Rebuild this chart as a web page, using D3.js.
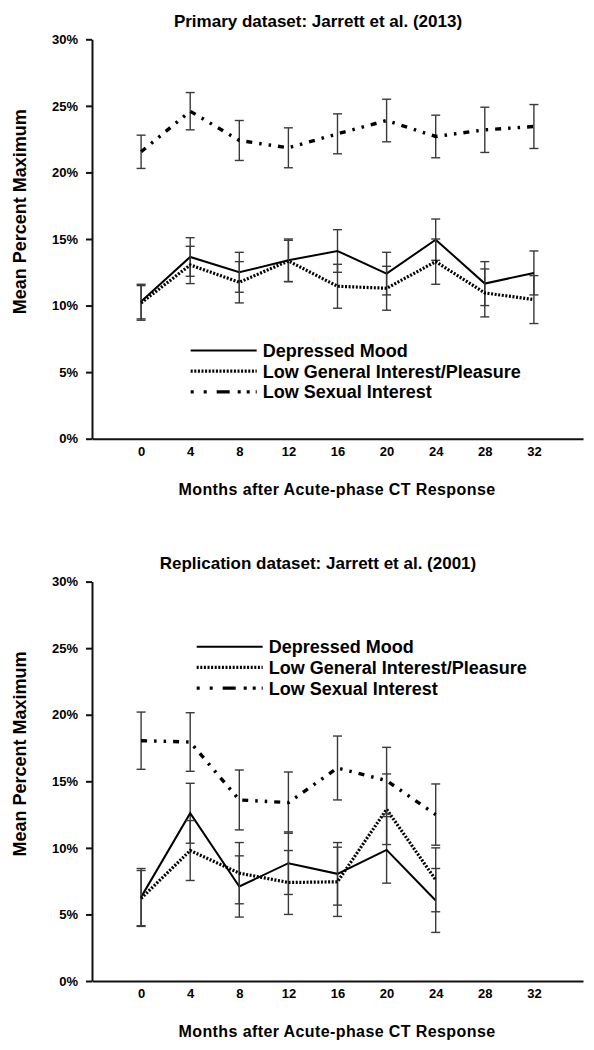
<!DOCTYPE html>
<html>
<head>
<meta charset="utf-8">
<script src="https://cdn.jsdelivr.net/npm/d3@7"></script>
<style>
  html, body { margin: 0; padding: 0; background: #fff; }
  svg { display: block; font-family: Arial, "Liberation Sans", sans-serif; }
</style>
</head>
<body>
<svg id="chart" width="594" height="1050"></svg>
<script>
// ---- data ----
const months = [0, 4, 8, 12, 16, 20, 24, 28, 32];
const yTicks = [0, 5, 10, 15, 20, 25, 30];
const seriesNames = ["Depressed Mood", "Low General Interest/Pleasure", "Low Sexual Interest"];

// Primary dataset (2013)
const dmPrimary      = [10.3, 13.65, 12.5, 13.4, 14.1, 12.4, 14.95, 11.65, 12.45];
const dmPrimaryErr   = [1.3, 1.45, 1.5, 1.6, 1.6, 1.6, 1.55, 1.65, 1.65];
const lgiPrimary     = [10.2, 13.05, 11.75, 13.35, 11.45, 11.3, 13.3, 10.95, 10.45];
const lgiPrimaryErr  = [1.3, 1.4, 1.55, 1.55, 1.65, 1.65, 1.7, 1.8, 1.8];
const lsiPrimary     = [21.55, 24.6, 22.4, 21.85, 22.9, 23.9, 22.7, 23.2, 23.45];
const lsiPrimaryErr  = [1.25, 1.4, 1.5, 1.5, 1.5, 1.6, 1.6, 1.7, 1.65];

// Replication dataset (2001)
const repMonths      = [0, 4, 8, 12, 16, 20, 24];
const dmRep          = [6.3, 12.6, 7.1, 8.85, 8.05, 9.85, 6.05];
const dmRepErr       = [2.15, 2.25, 2.3, 2.35, 2.35, 2.5, 2.4];
const lgiRep         = [6.2, 9.8, 8.1, 7.4, 7.45, 12.9, 7.6];
const lgiRepErr      = [2.1, 2.25, 2.3, 2.4, 2.6, 2.65, 2.4];
const lsiRep         = [18.05, 17.95, 13.6, 13.4, 16.0, 15.05, 12.5];
const lsiRepErr      = [2.15, 2.2, 2.25, 2.3, 2.4, 2.5, 2.3];

// ---- styles ----
const lineStyles = [
  { width: 2,   dash: null },
  { width: 3.2, dash: "2,1.6" },
  { width: 3.4, dash: "6,7,2.5,7,2.5,7" }
];
const legendDash = [null, "2,1.6", "3,10,3,10,13,8,3,6,3,6,3"];

const svg = d3.select("#chart");
const x = d3.scaleLinear().domain([-4, 36]).range([92, 583]);

function panel(cfg) {
  const g = svg.append("g");
  const y = d3.scaleLinear().domain([0, 30]).range([cfg.y0, cfg.y0 - 399.4]);

  // title
  g.append("text").attr("x", 318).attr("y", cfg.y0 - 412)
    .attr("text-anchor", "middle").attr("font-size", 17).attr("font-weight", "bold")
    .text(cfg.title);

  // y axis
  const ya = g.append("g").attr("transform", `translate(${x(-4)},0)`)
    .call(d3.axisLeft(y).tickValues(yTicks).tickFormat(d => d + "%")
      .tickSize(6).tickSizeOuter(0).tickPadding(8));
  ya.select(".domain").attr("stroke", "#111").attr("stroke-width", 2);
  ya.selectAll(".tick line").attr("stroke", "#111").attr("stroke-width", 2);
  ya.selectAll(".tick text").attr("font-size", 13).attr("font-weight", "bold")
    .attr("font-family", "Arial, 'Liberation Sans', sans-serif").attr("fill", "#000");

  // x axis
  const xa = g.append("g").attr("transform", `translate(0,${cfg.y0})`)
    .call(d3.axisBottom(x).tickValues(months).tickFormat(d3.format("d"))
      .tickSize(0).tickSizeOuter(0).tickPadding(8));
  xa.select(".domain").attr("stroke", "#111").attr("stroke-width", 2);
  xa.selectAll(".tick text").attr("font-size", 13).attr("font-weight", "bold")
    .attr("font-family", "Arial, 'Liberation Sans', sans-serif").attr("fill", "#000");

  // axis titles
  g.append("text").attr("x", 337).attr("y", cfg.y0 + 56)
    .attr("text-anchor", "middle").attr("font-size", 16).attr("font-weight", "bold")
    .attr("letter-spacing", 0.4)
    .text("Months after Acute-phase CT Response");
  g.append("text")
    .attr("transform", `translate(25.5,${cfg.y0 - 227}) rotate(-90)`)
    .attr("text-anchor", "middle").attr("font-size", 18).attr("font-weight", "bold")
    .text("Mean Percent Maximum");

  // series
  cfg.series.forEach((s, i) => {
    const pts = s.vals.map((v, k) => ({ m: s.months[k], v, e: s.err[k] }));
    // error bars
    const eb = g.append("g").attr("stroke", "#3a3a3a").attr("stroke-width", 1.4);
    pts.forEach(p => {
      eb.append("line").attr("x1", x(p.m)).attr("x2", x(p.m))
        .attr("y1", y(p.v + p.e)).attr("y2", y(p.v - p.e));
      [p.v + p.e, p.v - p.e].forEach(c => {
        eb.append("line").attr("x1", x(p.m) - 4.5).attr("x2", x(p.m) + 4.5)
          .attr("y1", y(c)).attr("y2", y(c));
      });
    });
    const st = lineStyles[i];
    g.append("path").datum(pts)
      .attr("fill", "none").attr("stroke", "#000")
      .attr("stroke-width", st.width)
      .attr("stroke-dasharray", st.dash)
      .attr("stroke-linejoin", "miter")
      .attr("d", d3.line().x(p => x(p.m)).y(p => y(p.v)));
  });

  // legend
  const lg = g.append("g");
  seriesNames.forEach((name, i) => {
    const cy = cfg.legY + i * 20.7;
    lg.append("line").attr("x1", cfg.legX).attr("x2", cfg.legX + 66)
      .attr("y1", cy).attr("y2", cy)
      .attr("stroke", "#000").attr("stroke-width", lineStyles[i].width)
      .attr("stroke-dasharray", legendDash[i]);
    lg.append("text").attr("x", cfg.legX + 72).attr("y", cy + 6.5)
      .attr("font-size", 18).attr("font-weight", "bold").text(name);
  });
}

panel({
  y0: 438.7,
  title: "Primary dataset: Jarrett et al. (2013)",
  legX: 190.7, legY: 350.5,
  series: [
    { months: months, vals: dmPrimary, err: dmPrimaryErr },
    { months: months, vals: lgiPrimary, err: lgiPrimaryErr },
    { months: months, vals: lsiPrimary, err: lsiPrimaryErr }
  ]
});

panel({
  y0: 981,
  title: "Replication dataset: Jarrett et al. (2001)",
  legX: 196.7, legY: 646.7,
  series: [
    { months: repMonths, vals: dmRep, err: dmRepErr },
    { months: repMonths, vals: lgiRep, err: lgiRepErr },
    { months: repMonths, vals: lsiRep, err: lsiRepErr }
  ]
});
</script>
</body>
</html>
